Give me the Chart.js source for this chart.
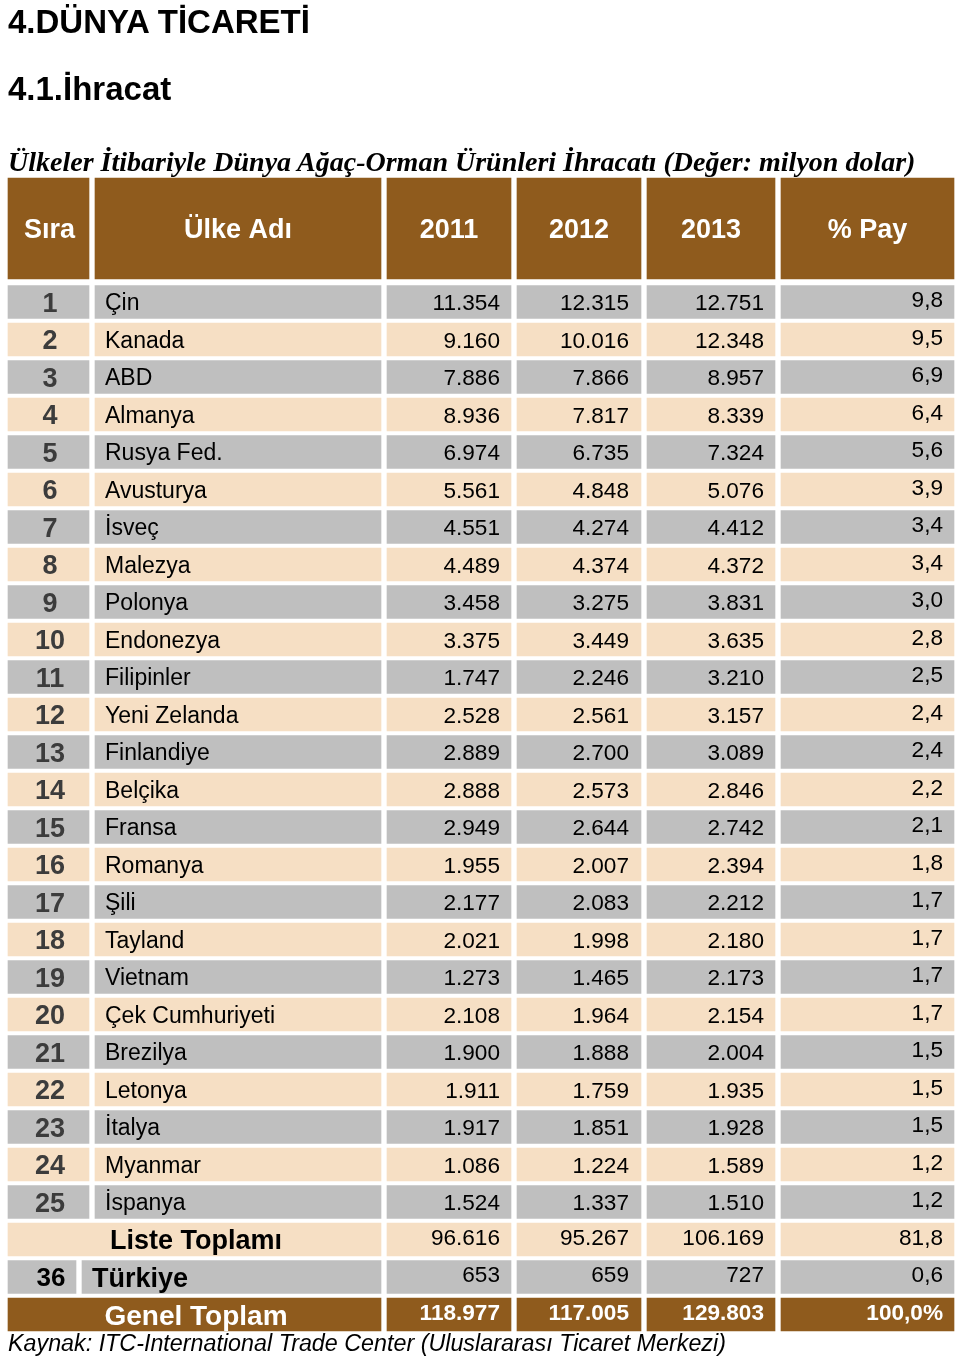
<!DOCTYPE html>
<html lang="tr">
<head>
<meta charset="utf-8">
<title>Dünya Ağaç-Orman Ürünleri İhracatı</title>
<script src="https://cdn.jsdelivr.net/npm/chart.js@4/dist/chart.umd.min.js"></script>
<style>
  body { margin: 0; background: #fff; }
  #wrap { position: relative; width: 960px; height: 1358px; overflow: hidden; }
  #table { position: absolute; left: 0; top: 0; }
  .txt { position: absolute; left: 8px; white-space: nowrap; color: #000; }
  .h1 { font: bold 33px 'Liberation Sans', Arial, sans-serif; line-height: 33px; top: 5px; }
  .h2 { font: bold 33px 'Liberation Sans', Arial, sans-serif; line-height: 33px; top: 72px; }
  .sub { font: italic bold 28px 'Liberation Serif', 'Times New Roman', serif; line-height: 28px; top: 148px; }
  .src { font: italic 23.3px 'Liberation Sans', Arial, sans-serif; line-height: 23px; top: 1332px; }
</style>
</head>
<body>
<div id="wrap">
  <canvas id="table" width="960" height="1358"></canvas>
  <div class="txt h1">4.DÜNYA TİCARETİ</div>
  <div class="txt h2">4.1.İhracat</div>
  <div class="txt sub">Ülkeler İtibariyle Dünya Ağaç-Orman Ürünleri İhracatı (Değer: milyon dolar)</div>
  <div class="txt src">Kaynak: ITC-International Trade Center (Uluslararası Ticaret Merkezi)</div>
</div>
<script>
// table data (milyon dolar)
const headers = ['Sıra', 'Ülke Adı', '2011', '2012', '2013', '% Pay'];
const ranks = [1, 2, 3, 4, 5, 6, 7, 8, 9, 10, 11, 12, 13, 14, 15, 16, 17, 18, 19, 20, 21, 22, 23, 24, 25];
const countries = ['Çin', 'Kanada', 'ABD', 'Almanya', 'Rusya Fed.', 'Avusturya', 'İsveç', 'Malezya',
  'Polonya', 'Endonezya', 'Filipinler', 'Yeni Zelanda', 'Finlandiye', 'Belçika', 'Fransa', 'Romanya',
  'Şili', 'Tayland', 'Vietnam', 'Çek Cumhuriyeti', 'Brezilya', 'Letonya', 'İtalya', 'Myanmar', 'İspanya'];
const exp2011 = [11354, 9160, 7886, 8936, 6974, 5561, 4551, 4489, 3458, 3375, 1747, 2528, 2889, 2888,
  2949, 1955, 2177, 2021, 1273, 2108, 1900, 1911, 1917, 1086, 1524];
const exp2012 = [12315, 10016, 7866, 7817, 6735, 4848, 4274, 4374, 3275, 3449, 2246, 2561, 2700, 2573,
  2644, 2007, 2083, 1998, 1465, 1964, 1888, 1759, 1851, 1224, 1337];
const exp2013 = [12751, 12348, 8957, 8339, 7324, 5076, 4412, 4372, 3831, 3635, 3210, 3157, 3089, 2846,
  2742, 2394, 2212, 2180, 2173, 2154, 2004, 1935, 1928, 1589, 1510];
const shares = [9.8, 9.5, 6.9, 6.4, 5.6, 3.9, 3.4, 3.4, 3.0, 2.8, 2.5, 2.4, 2.4, 2.2, 2.1, 1.8, 1.7, 1.7,
  1.7, 1.7, 1.5, 1.5, 1.5, 1.2, 1.2];

const listLabel = 'Liste Toplamı';
const listTotal = [96616, 95267, 106169];
const listShare = 81.8;
const turkeyRank = 36;
const turkeyName = 'Türkiye';
const turkeyValues = [653, 659, 727];
const turkeyShare = 0.6;
const grandLabel = 'Genel Toplam';
const grandTotal = [118977, 117005, 129803];
const grandShare = 100.0;

// layout
const BROWN = '#8f5b1d', GREY = '#bfbfbf', PEACH = '#f6dfc4';
const COLS = [[8, 89], [95, 381], [387, 511], [517, 641], [647, 775], [781, 954]];
const FIRST_ROW = 302, PITCH = 37.5;
const HEADER_Y = (228.5 - FIRST_ROW) / PITCH;

function fmt(n) {
  return String(n).replace(/\B(?=(\d{3})+(?!\d))/g, '.');
}
function pct(v) {
  return v.toFixed(1).replace('.', ',');
}

// build rows
const rows = countries.map((name, i) => ({
  kind: 'data', rank: ranks[i], name: name,
  vals: [exp2011[i], exp2012[i], exp2013[i]], share: shares[i]
}));
rows.push({ kind: 'list', name: listLabel, vals: listTotal, share: listShare });
rows.push({ kind: 'turkey', rank: turkeyRank, name: turkeyName, vals: turkeyValues, share: turkeyShare });
rows.push({ kind: 'grand', name: grandLabel, vals: grandTotal, share: grandShare });

function rowFill(i) {
  if (rows[i].kind === 'grand') return BROWN;
  return i % 2 === 0 ? GREY : PEACH;
}

// cell span of column c in row (null = merged away)
function span(row, c) {
  if (c === 0) {
    if (row.kind === 'list' || row.kind === 'grand') return [COLS[0][0], COLS[1][1]];
    if (row.kind === 'turkey') return [COLS[0][0], 76];
  }
  if (c === 1) {
    if (row.kind === 'list' || row.kind === 'grand') return null;
    if (row.kind === 'turkey') return [82, COLS[1][1]];
  }
  return COLS[c];
}

const datasets = [{
  label: 'header',
  data: COLS.map(col => ({ x: col, y: HEADER_Y })),
  backgroundColor: BROWN,
  barThickness: 101,
  grouped: false,
  borderWidth: 0
}];
headers.forEach((h, c) => {
  const data = [];
  rows.forEach((row, i) => {
    const s = span(row, c);
    if (s) data.push({ x: s, y: i });
  });
  datasets.push({
    label: h,
    data: data,
    backgroundColor: ctx => rowFill(ctx.raw.y),
    barThickness: 33,
    grouped: false,
    borderWidth: 0
  });
});

const SANS = "'Liberation Sans', Arial, sans-serif";

const tableText = {
  id: 'tableText',
  afterDatasetsDraw(chart) {
    const { ctx, scales: { x, y } } = chart;
    ctx.save();

    function put(text, px, py, size, bold, color, align) {
      ctx.font = (bold ? 'bold ' : '') + size + 'px ' + SANS;
      ctx.fillStyle = color;
      ctx.textAlign = align;
      ctx.textBaseline = 'alphabetic';
      ctx.fillText(text, px, py + size * 0.358);
    }
    const mid = c => x.getPixelForValue((COLS[c][0] + COLS[c][1]) / 2);
    const right = (c, pad) => x.getPixelForValue(COLS[c][1] - pad);

    // header
    const hy = y.getPixelForValue(HEADER_Y);
    headers.forEach((h, c) => put(h, mid(c) + (c === 0 ? 1 : 0), hy, 27, true, '#ffffff', 'center'));

    const numPads = [11, 12, 11, 11];
    rows.forEach((row, i) => {
      const cy = y.getPixelForValue(i);
      let numColor = '#000', numBold = false, off = 0, shareText = pct(row.share);
      if (row.kind === 'data') {
        put(String(row.rank), mid(0) + 1.5, cy, 27, true, '#3c3c3c', 'center');
        put(row.name, x.getPixelForValue(105), cy, 23, false, '#000', 'left');
      } else if (row.kind === 'list') {
        put(row.name, x.getPixelForValue(196), cy, 27, true, '#000', 'center');
        off = -3;
      } else if (row.kind === 'turkey') {
        put(String(row.rank), x.getPixelForValue(51), cy, 26, true, '#000', 'center');
        put(row.name, x.getPixelForValue(92), cy, 27, true, '#000', 'left');
        off = -3;
      } else {
        put(row.name, x.getPixelForValue(196), cy, 28, true, '#ffffff', 'center');
        numColor = '#ffffff'; numBold = true; off = -3; shareText += '%';
      }
      row.vals.forEach((v, k) => put(fmt(v), right(k + 2, numPads[k]), cy + off, 22.6, numBold, numColor, 'right'));
      put(shareText, right(5, numPads[3]), cy - 3, 22.6, numBold, numColor, 'right');
    });
    ctx.restore();
  }
};

new Chart(document.getElementById('table'), {
  type: 'bar',
  data: { datasets: datasets },
  options: {
    indexAxis: 'y',
    responsive: false,
    animation: false,
    layout: { padding: 0 },
    scales: {
      x: { type: 'linear', min: 0, max: 960, offset: false, display: false },
      y: { type: 'linear', reverse: true, offset: false, min: -FIRST_ROW / PITCH, max: (1358 - FIRST_ROW) / PITCH, display: false }
    },
    plugins: {
      legend: { display: false },
      tooltip: { enabled: false }
    }
  },
  plugins: [tableText]
});
</script>
</body>
</html>
